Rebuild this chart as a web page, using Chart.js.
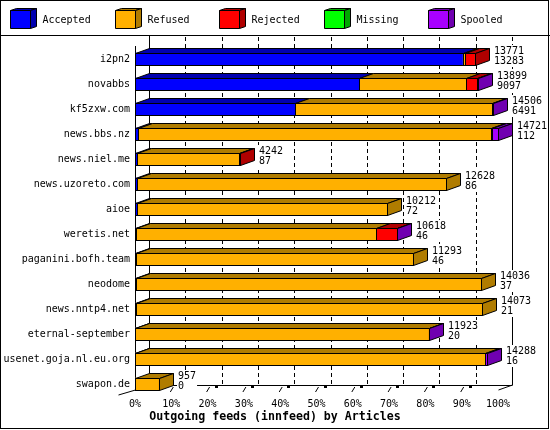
<!DOCTYPE html>
<html lang="en">
<head>
<meta charset="UTF-8">
<title>Outgoing feeds (innfeed) by Articles</title>
<script src="https://cdn.jsdelivr.net/npm/chart.js"></script>
<style>
body { margin: 0; background: #fff; }
#feeds { display: block; }
</style>
</head>
<body>
<canvas id="feeds" width="550" height="430"></canvas>
<script>
// innfeed peers and article counts
const peers = ['i2pn2', 'novabbs', 'kf5zxw.com', 'news.bbs.nz', 'news.niel.me', 'news.uzoreto.com', 'aioe',
    'weretis.net', 'paganini.bofh.team', 'neodome', 'news.nntp4.net', 'eternal-september', 'usenet.goja.nl.eu.org', 'swapon.de'];
const offered  = [13771, 13899, 14506, 14721, 4242, 12628, 10212, 10618, 11293, 14036, 14073, 11923, 14288, 957];
const accepted = [13283, 9097, 6491, 112, 87, 86, 72, 46, 46, 37, 21, 20, 16, 0];
const refused  = [95, 4327, 8000, 14325, 4115, 12542, 10140, 9715, 11247, 13999, 14052, 11883, 14192, 957];
const rejected = [393, 460, 0, 40, 40, 0, 0, 852, 0, 0, 0, 0, 0, 0];
const missing  = [0, 0, 0, 0, 0, 0, 0, 0, 0, 0, 0, 0, 0, 0];
const spooled  = [0, 15, 15, 244, 0, 0, 0, 5, 0, 0, 0, 20, 80, 0];
const tickValues = [0, 10, 20, 30, 40, 50, 60, 70, 80, 90, 100];
const xTitle = 'Outgoing feeds (innfeed) by Articles';

const maxOffered = Math.max(...offered);
const pct = arr => arr.map(v => v / maxOffered * 100);

const DX = 14, DY = 5, BAR = 12;
const MONO = '"DejaVu Sans Mono", "Liberation Mono", monospace';

function poly(ctx, pts, fill) {
    ctx.beginPath();
    ctx.moveTo(pts[0][0], pts[0][1]);
    for (let k = 1; k < pts.length; k++) ctx.lineTo(pts[k][0], pts[k][1]);
    ctx.closePath();
    ctx.fillStyle = fill;
    ctx.fill();
    ctx.stroke();
}
function line(ctx, x1, y1, x2, y2) {
    ctx.beginPath();
    ctx.moveTo(x1, y1);
    ctx.lineTo(x2, y2);
    ctx.stroke();
}
const snap = v => Math.round(v) + 0.5;

const box3d = {
    id: 'box3d',
    beforeDatasetsDraw(chart) {
        const ctx = chart.ctx, x = chart.scales.x, y = chart.scales.y;
        const floorF = y.getPixelForValue(peers.length - 1) + BAR / 2;
        const floorB = floorF - DY;
        ctx.save();
        ctx.strokeStyle = '#000';
        ctx.lineWidth = 1;
        tickValues.forEach(v => {
            const xb = snap(x.getPixelForValue(v) + DX);
            if (v === 0) {
                line(ctx, xb, 36, xb, floorB);
            } else {
                ctx.setLineDash([4, 3]);
                line(ctx, xb, 37, xb, floorB);
                ctx.setLineDash([]);
            }
        });
        const xr = snap(x.getPixelForValue(100) + DX);
        line(ctx, xr, 112, xr, floorB);
        // floor
        const x0 = snap(x.getPixelForValue(0)), x100 = snap(x.getPixelForValue(100));
        line(ctx, x0 + DX, snap(floorB), xr, snap(floorB));
        line(ctx, x100, floorF, xr, floorB);
        line(ctx, x0, 46, x0, floorF);
        line(ctx, x0 - 17, floorF + 5, x0, floorF);
        tickValues.slice(1, -1).forEach(v => {
            const xf = x.getPixelForValue(v);
            line(ctx, xf - 1, floorF + 2, xf + 2, floorF - 3);
            ctx.fillStyle = '#000';
            ctx.fillRect(Math.round(xf + 7), floorB, 3, 3);
        });
        ctx.restore();
    },
    afterDatasetsDraw(chart) {
        const ctx = chart.ctx;
        const metas = chart.getSortedVisibleDatasetMetas();
        ctx.save();
        ctx.strokeStyle = '#000';
        ctx.lineWidth = 1;
        peers.forEach((p, i) => {
            let last = null;
            metas.forEach(meta => {
                const el = meta.data[i];
                const {x, y, base} = el.getProps(['x', 'y', 'base'], true);
                if (Math.abs(x - base) < 0.01) return;
                const ds = chart.data.datasets[meta.index];
                const top = snap(y - BAR / 2), bot = snap(y + BAR / 2);
                const l = snap(base), r = snap(x);
                poly(ctx, [[l, top], [r, top], [r + DX, top - DY], [l + DX, top - DY]], ds.sideColor);
                ctx.strokeRect(l, top, r - l, bot - top);
                last = {r, top, bot, color: ds.sideColor};
            });
            if (last) {
                poly(ctx, [[last.r, last.top], [last.r + DX, last.top - DY], [last.r + DX, last.bot - DY], [last.r, last.bot]], last.color);
            }
        });
        ctx.restore();
    },
    afterDraw(chart) {
        const ctx = chart.ctx, y = chart.scales.y;
        const metas = chart.getSortedVisibleDatasetMetas();
        ctx.save();
        // value labels
        ctx.font = '10px ' + MONO;
        ctx.textBaseline = 'middle';
        ctx.textAlign = 'left';
        peers.forEach((p, i) => {
            const end = Math.max(...metas.map(m => m.data[i].x));
            const lx = Math.round(end + DX + 5);
            const cy = y.getPixelForValue(i);
            const top = String(offered[i]), bottom = String(accepted[i]);
            const w = Math.max(ctx.measureText(top).width, ctx.measureText(bottom).width);
            ctx.fillStyle = '#fff';
            ctx.fillRect(lx - 1, cy - 14, w + 2, 22);
            ctx.fillStyle = '#000';
            ctx.fillText(top, lx, cy - 8);
            ctx.fillText(bottom, lx, cy + 2.5);
        });
        // legend
        ctx.strokeStyle = '#000';
        ctx.lineWidth = 1;
        chart.data.datasets.forEach((ds, k) => {
            const x0 = Math.round(10 + k * 104.5) + 0.5;
            poly(ctx, [[x0, 10.5], [x0 + 20, 10.5], [x0 + 26, 8.5], [x0 + 6, 8.5]], ds.sideColor);
            poly(ctx, [[x0 + 20, 10.5], [x0 + 26, 8.5], [x0 + 26, 26.5], [x0 + 20, 28.5]], ds.sideColor);
            poly(ctx, [[x0, 10.5], [x0 + 20, 10.5], [x0 + 20, 28.5], [x0, 28.5]], ds.backgroundColor);
            ctx.fillStyle = '#000';
            ctx.fillText(ds.label, x0 + 32, 20);
        });
        line(ctx, 0, 35.5, 550, 35.5);
        ctx.strokeRect(0.5, 0.5, 548, 428);
        // axis title
        ctx.font = 'bold 11.6px ' + MONO;
        ctx.textAlign = 'center';
        ctx.fillText(xTitle, 275, 417);
        ctx.restore();
    }
};

const ctx = document.getElementById('feeds').getContext('2d');
const feedsChart = new Chart(ctx, {
    type: 'bar',
    data: {
        labels: peers,
        datasets: [
            {label: 'Accepted', data: pct(accepted), backgroundColor: '#0000ff', sideColor: '#0000b0'},
            {label: 'Refused', data: pct(refused), backgroundColor: '#ffb000', sideColor: '#b07c00'},
            {label: 'Rejected', data: pct(rejected), backgroundColor: '#ff0000', sideColor: '#b00000'},
            {label: 'Missing', data: pct(missing), backgroundColor: '#00ff00', sideColor: '#00a800'},
            {label: 'Spooled', data: pct(spooled), backgroundColor: '#a800ff', sideColor: '#7000b0'}
        ]
    },
    options: {
        indexAxis: 'y',
        responsive: false,
        animation: false,
        barThickness: BAR,
        borderWidth: 0,
        layout: {padding: {top: 46.5, right: 52, bottom: 0, left: 0}},
        plugins: {legend: {display: false}, tooltip: {enabled: false}},
        scales: {
            x: {
                stacked: true,
                min: 0,
                max: 100,
                grid: {display: false, drawTicks: false},
                border: {display: false},
                ticks: {stepSize: 10, padding: 1.5, color: '#000', font: {family: MONO, size: 10},
                    callback: v => v + '%'},
                afterFit(scale) { scale.height = 33.5; }
            },
            y: {
                stacked: true,
                grid: {display: false, drawTicks: false},
                border: {display: false},
                ticks: {padding: 5, color: '#000', font: {family: MONO, size: 10}},
                afterFit(scale) { scale.width = 135; }
            }
        }
    },
    plugins: [box3d]
});
</script>
</body>
</html>
